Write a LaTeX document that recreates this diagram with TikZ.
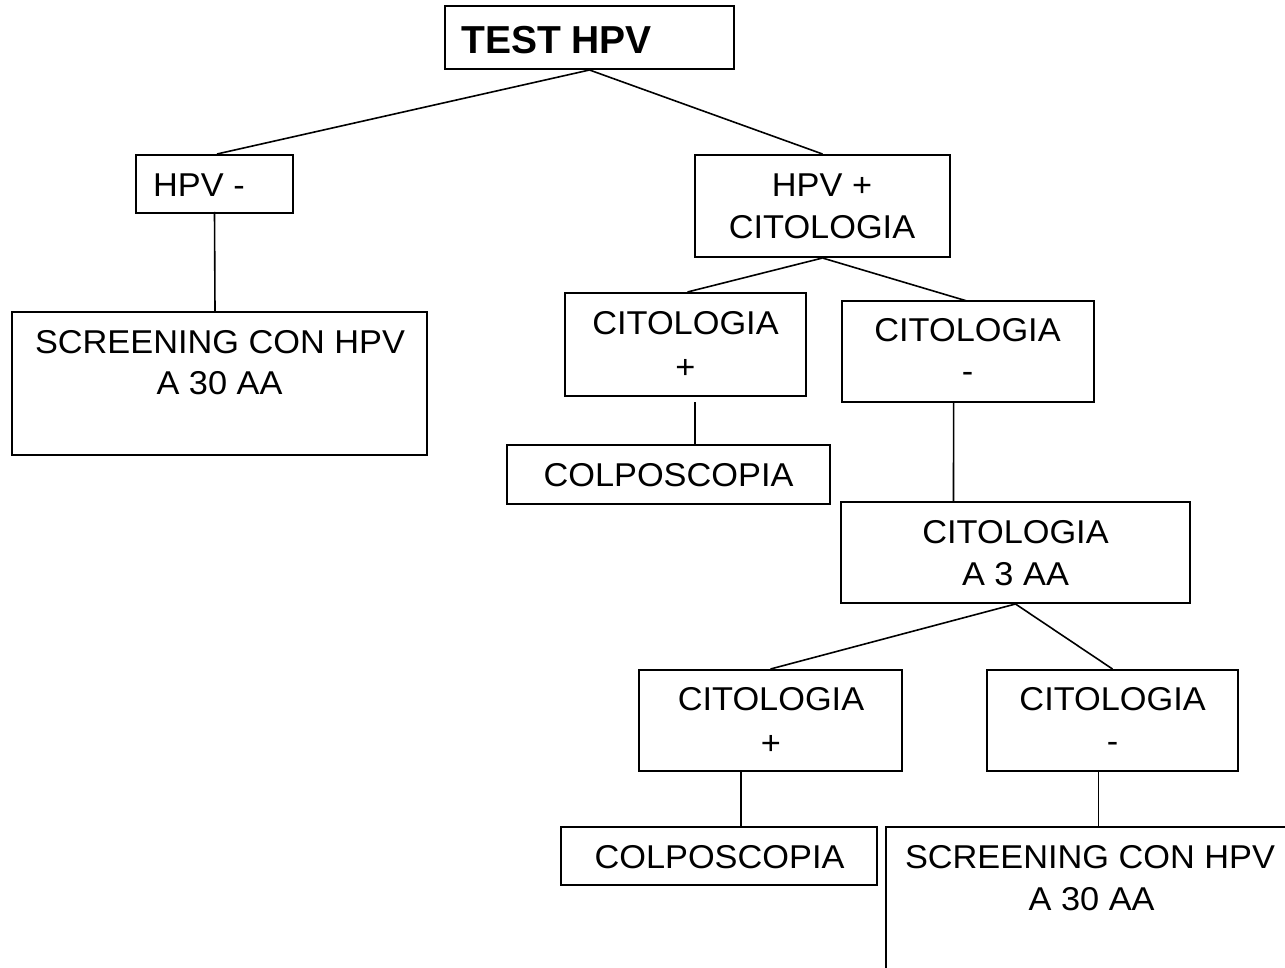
\documentclass[tikz,border=0pt]{standalone}
\usepackage{fontspec}
\setmainfont{Liberation Sans}[FakeStretch=1.04]
\newfontfamily\titlefont{Liberation Sans}
\begin{document}
\begin{tikzpicture}[x=1pt,y=-1pt,
  box/.style={draw=black,line width=2pt,rectangle,inner sep=0pt},
  conn/.style={draw=black,line width=1.6pt},
  txt/.style={anchor=base,inner sep=0pt,font=\fontsize{33}{40}\selectfont},
  txtl/.style={anchor=base west,inner sep=0pt,font=\fontsize{33}{40}\selectfont}]
\clip (0,0) rectangle (1285,968);
\fill[white] (0,0) rectangle (1285,968);
% boxes
\node[box,minimum width=289pt,minimum height=63pt] (test) at (589.5,37.5) {};
\node[box,minimum width=157pt,minimum height=58pt] (hpvm) at (214.5,184) {};
\node[box,minimum width=255pt,minimum height=102pt] (hpvp) at (822.5,206) {};
\node[box,minimum width=415pt,minimum height=143pt] (scr1) at (219.5,383.5) {};
\node[box,minimum width=241pt,minimum height=103pt] (cit1) at (685.5,344.5) {};
\node[box,minimum width=252pt,minimum height=101pt] (cit2) at (968,351.5) {};
\node[box,minimum width=323pt,minimum height=59pt] (colpo1) at (668.5,474.5) {};
\node[box,minimum width=349pt,minimum height=101pt] (a3) at (1015.5,552.5) {};
\node[box,minimum width=263pt,minimum height=101pt] (cp2) at (770.5,720.5) {};
\node[box,minimum width=251pt,minimum height=101pt] (cm2) at (1112.5,720.5) {};
\node[box,minimum width=316pt,minimum height=58pt] (colpo2) at (719,856) {};
\node[box,minimum width=415pt,minimum height=143pt] (scr2) at (1093.5,898.5) {};
% texts
\node[anchor=base west,inner sep=0pt,font=\titlefont\fontsize{39}{46}\selectfont\bfseries] (testt) at (461,53.3) {TEST HPV};
\node[txtl] (hpvmt) at (153,196.7) {HPV -};
\node[txt] (hpvpa) at (822,196.7) {HPV +};
\node[txt] (hpvpb) at (822,239) {CITOLOGIA};
\node[txt] (scr1a) at (220,353) {SCREENING CON HPV};
\node[txt] (scr1b) at (219.5,394.3) {A 30 AA};
\node[txt] (cit1a) at (685.5,334.3) {CITOLOGIA};
\node[txt] (cit1b) at (685.5,378) {+};
\node[txt] (cit2a) at (967.5,341.7) {CITOLOGIA};
\node[txt] (cit2b) at (967.5,382.5) {-};
\node[txt] (colpo1t) at (668.5,486.7) {COLPOSCOPIA};
\node[txt] (a3a) at (1015.5,543.3) {CITOLOGIA};
\node[txt] (a3b) at (1015.5,585) {A 3 AA};
\node[txt] (cp2a) at (771,710) {CITOLOGIA};
\node[txt] (cp2b) at (771,754) {+};
\node[txt] (cm2a) at (1112.6,710) {CITOLOGIA};
\node[txt] (cm2b) at (1112.6,752) {-};
\node[txt] (colpo2t) at (719.5,868) {COLPOSCOPIA};
\node[txt] (scr2a) at (1090,868) {SCREENING CON HPV};
\node[txt] (scr2b) at (1091.6,910) {A 30 AA};
% connectors
\draw[conn] (test.south) -- ([xshift=2.5pt]hpvm.north);
\draw[conn] (test.south) -- (hpvp.north);
\draw[conn] ([yshift=2pt]hpvm.south) -- ([xshift=-4.5pt]scr1.north);
\draw[conn] (hpvp.south) -- ([xshift=2pt]cit1.north);
\draw[conn] (hpvp.south) -- ([xshift=-1pt,yshift=-1pt]cit2.north);
\draw[conn] ([xshift=9.5pt,yshift=-5pt]cit1.south) -- ([xshift=26.5pt]colpo1.north);
\draw[conn] ([xshift=-14.4pt,yshift=2pt]cit2.south) -- ([xshift=-62pt]a3.north);
\draw[conn] (a3.south) -- (cp2.north);
\draw[conn] (a3.south) -- (cm2.north);
\draw[conn] ([xshift=-29.5pt]cp2.south) -- ([xshift=22pt]colpo2.north);
\coordinate (cm2out) at ([xshift=-14pt]cm2.south);
\draw[conn] (cm2out) -- (cm2out |- scr2.north);
\end{tikzpicture}
\end{document}
